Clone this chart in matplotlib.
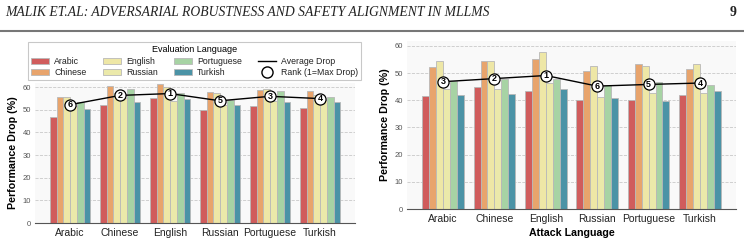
import numpy as np
import matplotlib
matplotlib.use("Agg")
import matplotlib.pyplot as plt
from matplotlib.lines import Line2D

plt.rcParams['font.family'] = ['Liberation Sans', 'DejaVu Sans']

languages = ["Arabic", "Chinese", "English", "Russian", "Portuguese", "Turkish"]

# left panel: rows = evaluation language, columns = x groups
left_arabic = [46.8, 52.2, 55.1, 50.0, 51.8, 50.9]
left_chinese = [55.7, 60.6, 61.3, 57.9, 58.7, 58.4]
left_english = [55.4, 57.5, 60.0, 57.4, 59.1, 56.5]
left_russian = [51.7, 55.2, 54.0, 52.0, 53.9, 54.4]
left_portuguese = [53.2, 59.1, 57.4, 54.4, 58.4, 55.7]
left_turkish = [50.4, 53.2, 54.9, 51.9, 53.5, 53.5]

# right panel: rows = evaluation language, columns = attack language
right_arabic = [41.6, 44.9, 43.3, 40.0, 40.0, 41.8]
right_chinese = [52.2, 54.3, 55.3, 50.7, 53.2, 51.6]
right_english = [54.4, 54.3, 57.7, 52.8, 52.8, 53.2]
right_russian = [44.0, 44.0, 46.5, 41.2, 42.7, 42.7]
right_portuguese = [47.1, 48.0, 47.9, 45.8, 46.6, 45.5]
right_turkish = [41.8, 42.4, 44.0, 40.8, 39.7, 43.3]

left_data = [left_arabic, left_chinese, left_english, left_russian, left_portuguese, left_turkish]
right_data = [right_arabic, right_chinese, right_english, right_russian, right_portuguese, right_turkish]

colors = ['#d05c5c', '#e8a46c', '#eee7a6', '#ebe9aa', '#a7d3a4', '#4b93a6']

W, H = 744, 244
fig = plt.figure(figsize=(W / 100, H / 100), dpi=100, facecolor='white')

# page header
fig.text(5 / W, 1 - 13 / H, "MALIK ET.AL: ADVERSARIAL ROBUSTNESS AND SAFETY ALIGNMENT IN MLLMS",
         family='Liberation Serif', style='italic', fontsize=9.8, va='center', ha='left', color='#222222')
fig.text(737 / W, 1 - 13 / H, "9", family='Liberation Serif', weight='bold', fontsize=10,
         va='center', ha='right', color='#222222')
fig.add_artist(Line2D([0, 1], [1 - 31 / H, 1 - 31 / H], transform=fig.transFigure,
                      color='#777777', linewidth=1.5))


def px_axes(left, top, right, bottom):
    return fig.add_axes([left / W, 1 - bottom / H, (right - left) / W, (bottom - top) / H])


def draw_panel(ax, data, xlabel):
    x = np.arange(len(languages))
    width = 0.135
    ax.set_facecolor('#f9f9f9')
    for i, (vals, c) in enumerate(zip(data, colors)):
        ax.bar(x + (i - 2.5) * width, vals, width, color=c,
               edgecolor='#b8b8b8', linewidth=0.6, label=languages[i], zorder=2)
    avg = np.mean(np.array(data), axis=0)
    ax.plot(x, avg, color='black', linewidth=1.0, zorder=3)
    ax.plot(x, avg, 'o', markersize=8, markerfacecolor='white', markeredgecolor='black',
            markeredgewidth=0.9, zorder=4)
    order = np.argsort(-avg)
    ranks = np.empty(len(avg), dtype=int)
    ranks[order] = np.arange(1, len(avg) + 1)
    for xi, yi, r in zip(x, avg, ranks):
        ax.text(xi, yi, str(r), ha='center', va='center', fontsize=6.5, weight='bold', zorder=5)
    ax.set_xlim(-0.7, 5.7)
    ax.set_ylim(0, 62)
    ax.set_yticks(range(0, 61, 10))
    ax.set_xticks(x)
    ax.set_xticklabels(languages, fontsize=7.5, color='#222222')
    ax.tick_params(axis='y', labelsize=5.5, labelcolor='#555555', length=0, pad=3)
    ax.tick_params(axis='x', length=0, pad=3.5)
    ax.grid(axis='y', linestyle='--', color='#c8c8c8', linewidth=0.6, zorder=0)
    ax.set_axisbelow(True)
    for s in ['top', 'right', 'left']:
        ax.spines[s].set_visible(False)
    ax.spines['bottom'].set_color('#555555')
    ax.spines['bottom'].set_linewidth(0.8)
    ax.set_ylabel("Performance Drop (%)", fontsize=7.7, weight='bold', labelpad=3)
    if xlabel:
        ax.set_xlabel(xlabel, fontsize=7.7, weight='bold', labelpad=3)


ax1 = px_axes(35, 82.5, 355, 223)
draw_panel(ax1, left_data, None)

ax2 = px_axes(407, 40.5, 736, 209)
draw_panel(ax2, right_data, "Attack Language")

handles, labels = ax1.get_legend_handles_labels()
handles += [Line2D([0], [0], color='black', linewidth=1.0),
            Line2D([0], [0], marker='o', linestyle='none', markersize=8,
                   markerfacecolor='white', markeredgecolor='black')]
labels += ["Average Drop", "Rank (1=Max Drop)"]
leg = fig.legend(handles, labels, ncol=4, loc='upper left',
                 bbox_to_anchor=(28 / W, 1 - 42 / H), bbox_transform=fig.transFigure,
                 title="Evaluation Language", fontsize=6.3, title_fontsize=6.5,
                 frameon=True, fancybox=False, edgecolor='#bbbbbb', borderaxespad=0,
                 handlelength=2.1, handletextpad=0.55, columnspacing=1.85,
                 labelspacing=0.3, borderpad=0.35)
leg.get_frame().set_linewidth(0.8)
for t in leg.get_texts():
    t.set_color('#222222')

fig.savefig("out.png", dpi=100, facecolor='white')
